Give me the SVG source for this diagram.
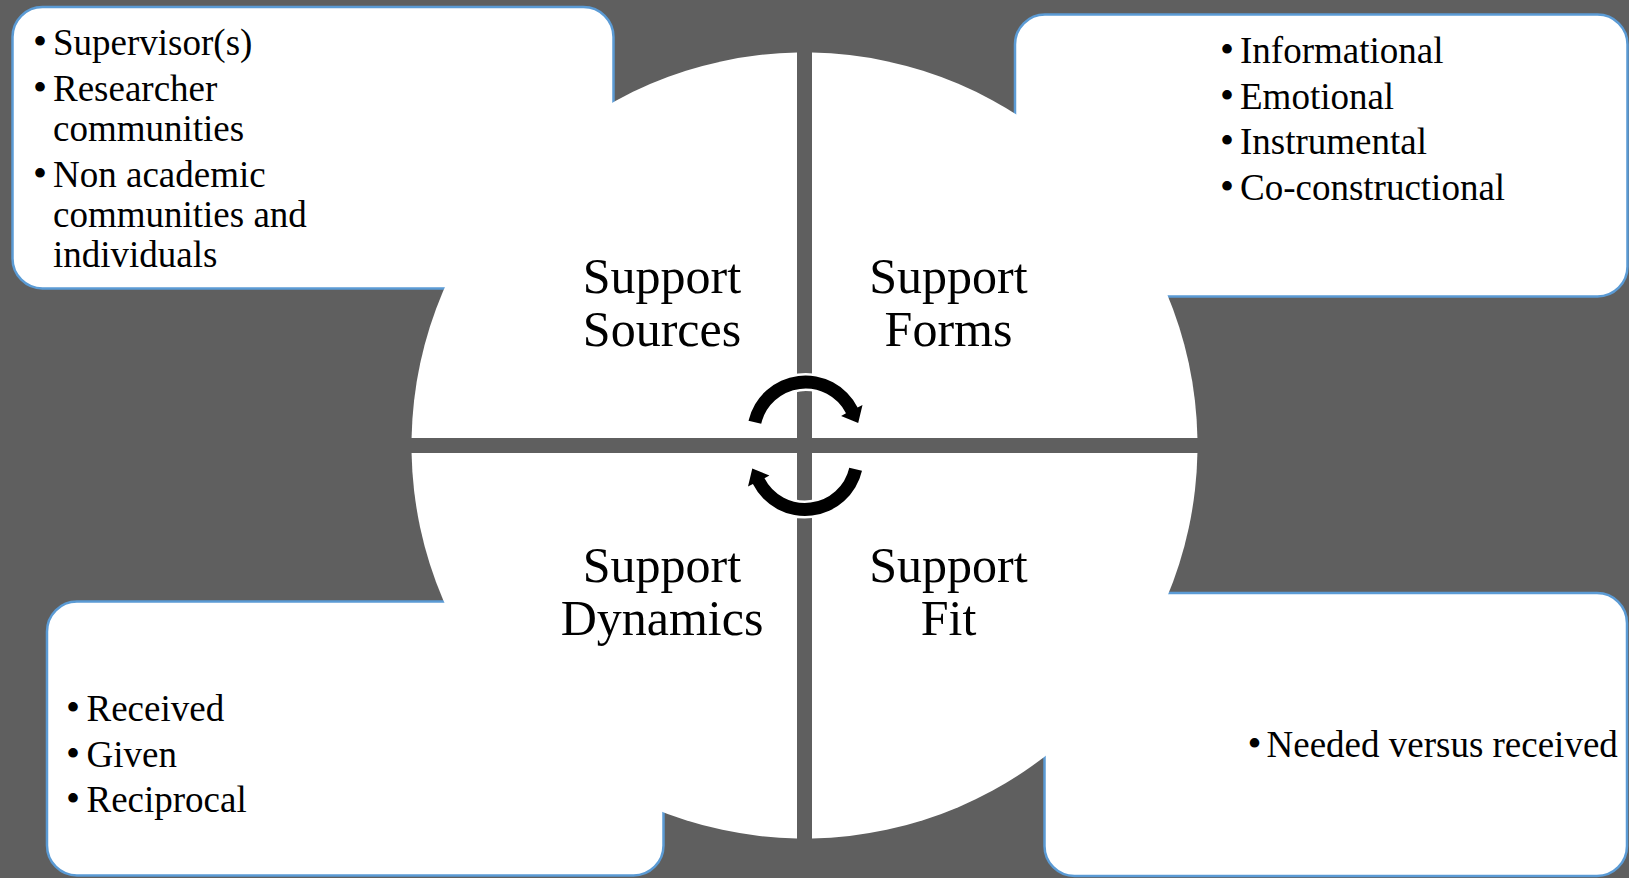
<svg xmlns="http://www.w3.org/2000/svg" width="1629" height="878" viewBox="0 0 1629 878">
  <style>
    .box { fill: #ffffff; stroke: #5B9BD5; stroke-width: 2.5; }
    .quad { fill: #ffffff; }
    .item { font-family: "Liberation Serif", "Times New Roman", serif; font-size: 37px; fill: #000000; }
    .dot { font-family: "Liberation Serif", "Times New Roman", serif; font-size: 40px; fill: #000000; text-anchor: middle; }
    .label { font-family: "Liberation Serif", "Times New Roman", serif; font-size: 50px; fill: #000000; text-anchor: middle; }
    .cycle { fill: #000000; stroke: #ffffff; stroke-width: 5; stroke-linejoin: miter; paint-order: stroke; }
  </style>
  <defs>
    <!-- curved arrow, clockwise over the top of the centre -->
    <path id="turn" d="M 761.2 423.8 L 748.5 420.8 A 58.5 58.5 0 0 1 857.6 407.4 L 862.5 404.9 L 858.2 423.0 L 841.1 415.9 L 846.0 413.3 A 45.5 45.5 0 0 0 761.2 423.8 Z"/>
  </defs>

  <!-- background -->
  <rect x="0" y="0" width="1629" height="878" fill="#5f5f5f"/>

  <!-- detail boxes -->
  <g id="box-sources">
    <rect class="box" x="12.5" y="7" width="601" height="281.5" rx="30" ry="30"/>
  </g>
  <g id="box-forms">
    <rect class="box" x="1015" y="14.5" width="612.5" height="282" rx="30" ry="30"/>
  </g>
  <g id="box-dynamics">
    <rect class="box" x="47" y="601.5" width="616.5" height="274" rx="30" ry="30"/>
  </g>
  <g id="box-fit">
    <rect class="box" x="1044.5" y="593" width="582.5" height="283" rx="30" ry="30"/>
  </g>

  <!-- central circle split into four quadrants -->
  <g id="quadrant-sources">
    <path class="quad" d="M 797 438 L 797 52.57 A 393 393 0 0 0 411.57 438 Z"/>
    <text class="label" x="662" y="293">Support</text>
    <text class="label" x="662" y="346">Sources</text>
  </g>
  <g id="quadrant-forms">
    <path class="quad" d="M 812 438 L 812 52.57 A 393 393 0 0 1 1197.43 438 Z"/>
    <text class="label" x="948.5" y="293">Support</text>
    <text class="label" x="948.5" y="346">Forms</text>
  </g>
  <g id="quadrant-dynamics">
    <path class="quad" d="M 797 453 L 797 838.43 A 393 393 0 0 1 411.57 453 Z"/>
    <text class="label" x="662" y="582">Support</text>
    <text class="label" x="662" y="635">Dynamics</text>
  </g>
  <g id="quadrant-fit">
    <path class="quad" d="M 812 453 L 812 838.43 A 393 393 0 0 0 1197.43 453 Z"/>
    <text class="label" x="948.5" y="582">Support</text>
    <text class="label" x="948.5" y="635">Fit</text>
  </g>

  <!-- cycle arrows around the centre -->
  <g id="connectors">
    <use href="#turn" class="cycle"/>
    <use href="#turn" class="cycle" transform="rotate(180 805.25 445.75)"/>
  </g>

  <!-- box texts -->
  <g id="text-sources">
    <text class="dot" x="40" y="55">•</text>
    <text class="item" x="53" y="55">Supervisor(s)</text>
    <text class="dot" x="40" y="100.5">•</text>
    <text class="item" x="53" y="100.5">Researcher</text>
    <text class="item" x="53" y="140.5">communities</text>
    <text class="dot" x="40" y="186.5">•</text>
    <text class="item" x="53" y="186.5">Non academic</text>
    <text class="item" x="53" y="226.5">communities and</text>
    <text class="item" x="53" y="266.5">individuals</text>
  </g>
  <g id="text-forms">
    <text class="dot" x="1227" y="63">•</text>
    <text class="item" x="1240" y="63">Informational</text>
    <text class="dot" x="1227" y="108.5">•</text>
    <text class="item" x="1240" y="108.5">Emotional</text>
    <text class="dot" x="1227" y="154">•</text>
    <text class="item" x="1240" y="154">Instrumental</text>
    <text class="dot" x="1227" y="199.5">•</text>
    <text class="item" x="1240" y="199.5">Co-constructional</text>
  </g>
  <g id="text-dynamics">
    <text class="dot" x="73" y="721">•</text>
    <text class="item" x="86.5" y="721">Received</text>
    <text class="dot" x="73" y="766.5">•</text>
    <text class="item" x="86.5" y="766.5">Given</text>
    <text class="dot" x="73" y="812">•</text>
    <text class="item" x="86.5" y="812">Reciprocal</text>
  </g>
  <g id="text-fit">
    <text class="dot" x="1254.5" y="756.5">•</text>
    <text class="item" x="1266.5" y="756.5">Needed versus received</text>
  </g>
</svg>
